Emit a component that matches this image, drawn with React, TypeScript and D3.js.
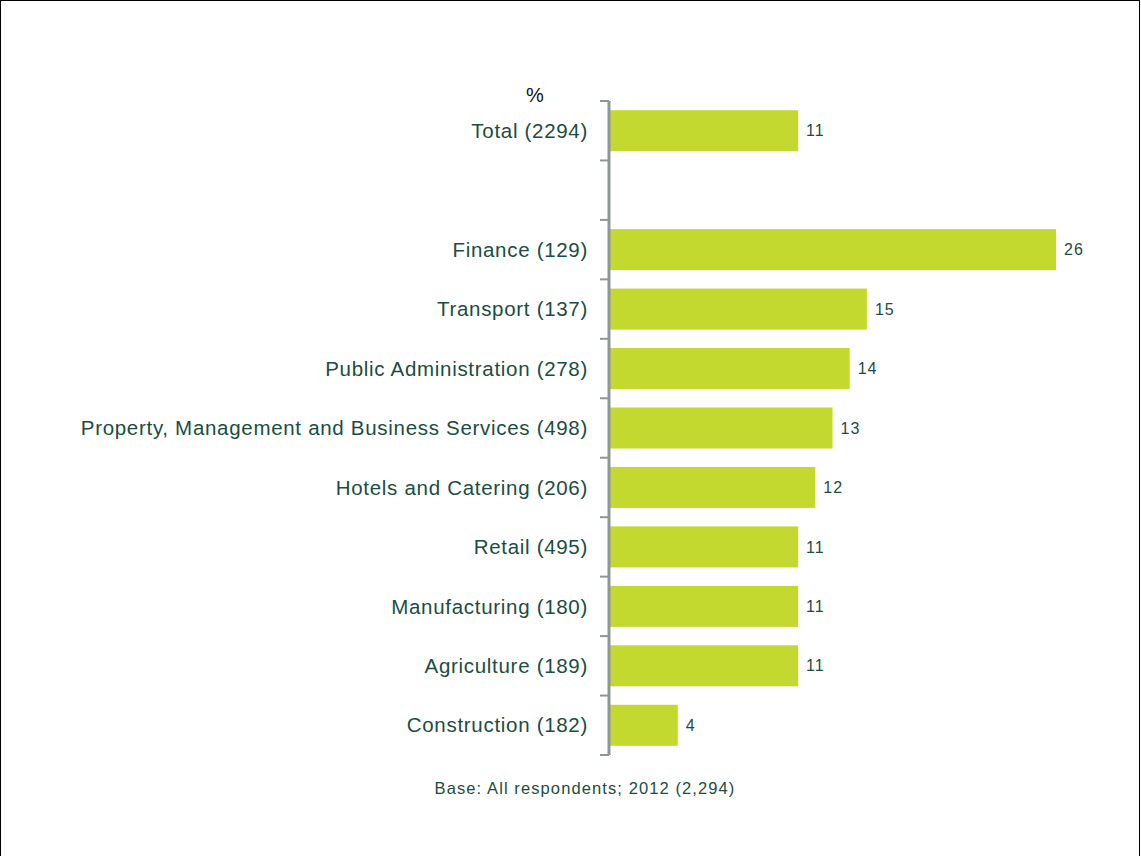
import { useRef, useEffect } from "react";
import * as d3 from "d3";

const categories = [
  "Total (2294)",
  "",
  "Finance (129)",
  "Transport (137)",
  "Public Administration (278)",
  "Property, Management and Business Services (498)",
  "Hotels and Catering (206)",
  "Retail (495)",
  "Manufacturing (180)",
  "Agriculture (189)",
  "Construction (182)",
];
const values: (number | null)[] = [11, null, 26, 15, 14, 13, 12, 11, 11, 11, 4];
const baseNote = "Base: All respondents; 2012 (2,294)";

const W = 1141;
const H = 856;
const FONT = "'Liberation Sans', Arial, sans-serif";
const TEXT = "#1b4d42";
const BAR = "#c4d92f";

export default function App() {
  const ref = useRef<SVGSVGElement>(null);

  useEffect(() => {
    if (!ref.current) return;
    const svg = d3.select(ref.current);
    svg.selectAll("*").remove();

    svg.append("rect").attr("x", 0.5).attr("y", 0.5).attr("width", W - 2).attr("height", H + 10)
      .attr("fill", "white").attr("stroke", "#000").attr("stroke-width", 1);

    const x0 = 609;
    const x = d3.scaleLinear().domain([0, 26]).range([x0, 1056]);
    const y = d3.scaleBand<string>().domain(categories.map((c, i) => c || `blank${i}`))
      .range([101, 755]).paddingInner(0.31).paddingOuter(0.155);
    const step = y.step();
    const keys = y.domain();

    const g = svg.append("g");

    keys.forEach((k, i) => {
      const v = values[i];
      if (v == null) return;
      const cy = y(k)! + y.bandwidth() / 2;
      g.append("rect").attr("x", x(0) + 1).attr("y", y(k)!).attr("width", x(v) - x(0) - 1)
        .attr("height", y.bandwidth()).attr("fill", BAR);
      g.append("text").attr("x", x(v) + 8).attr("y", cy)
        .attr("dy", "0.35em").attr("font-family", FONT).attr("font-size", 16)
        .attr("letter-spacing", 1).attr("fill", TEXT).text(v);
      g.append("text").attr("x", 588).attr("y", cy)
        .attr("dy", "0.35em").attr("text-anchor", "end").attr("font-family", FONT)
        .attr("font-size", 20.5).attr("letter-spacing", 0.7).attr("fill", TEXT).text(categories[i]);
    });

    g.append("line").attr("x1", x0).attr("x2", x0).attr("y1", 101).attr("y2", 755)
      .attr("stroke", "#8c9894").attr("stroke-width", 3);
    for (let i = 0; i <= keys.length; i++) {
      const ty = 101 + i * step;
      g.append("line").attr("x1", x0 - 9).attr("x2", x0).attr("y1", ty).attr("y2", ty)
        .attr("stroke", "#8c9894").attr("stroke-width", 2);
    }

    svg.append("text").attr("x", 535).attr("y", 102).attr("text-anchor", "middle")
      .attr("font-family", FONT).attr("font-size", 20).attr("fill", "#111").text("%");

    svg.append("text").attr("x", 585).attr("y", 794).attr("text-anchor", "middle")
      .attr("font-family", FONT).attr("font-size", 16.5).attr("letter-spacing", 1.1)
      .attr("fill", TEXT).text(baseNote);
  }, []);

  return <svg ref={ref} width={W} height={H} style={{ position: "absolute", left: 0, top: 0 }} />;
}
